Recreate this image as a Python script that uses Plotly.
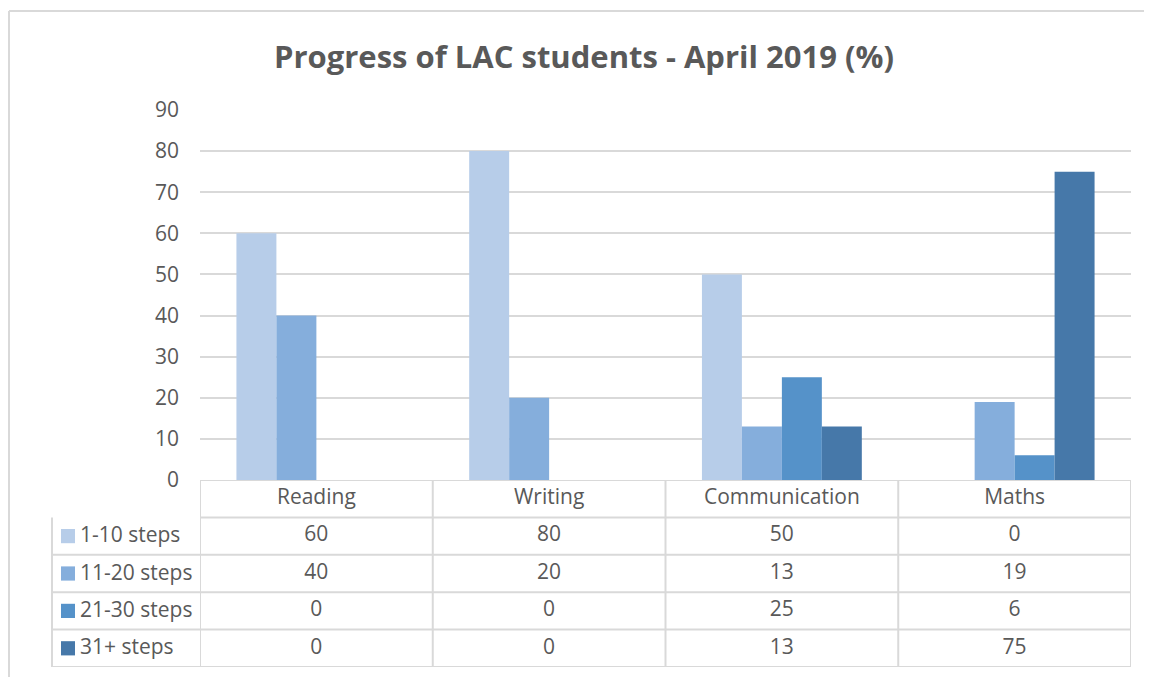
import plotly.graph_objects as go

# data
subjects = ['Reading', 'Writing', 'Communication', 'Maths']
series_names = ['1-10 steps', '11-20 steps', '21-30 steps', '31+ steps']
steps_1_10 = [60, 80, 50, 0]
steps_11_20 = [40, 20, 13, 19]
steps_21_30 = [0, 0, 25, 6]
steps_31_plus = [0, 0, 13, 75]
y_ticks = [0, 10, 20, 30, 40, 50, 60, 70, 80, 90]

series_values = [steps_1_10, steps_11_20, steps_21_30, steps_31_plus]
colors = ['#B7CDE9', '#85AEDC', '#5592C9', '#4678A9']

W, H = 1152, 677
OFF = 8  # page body margin
TXT = '#595959'
LINE = '#D9D9D9'
FONT = 'Open Sans'
FS = 21


def px(x):
    return (x - OFF) / W


def py(y):
    return (H - (y - OFF)) / H


fig = go.Figure()

# bars
for name, vals, col in zip(series_names, series_values, colors):
    fig.add_trace(go.Bar(x=subjects, y=vals, name=name, marker=dict(color=col, line=dict(width=0)),
                         showlegend=False, xaxis='x', yaxis='y'))

# data table: header row at 4, series rows at 3..0
n_rows = len(series_names)
fig.add_trace(go.Scatter(x=subjects, y=[n_rows] * len(subjects), text=subjects, mode='text',
                         textfont=dict(family=FONT, size=FS, color=TXT), showlegend=False,
                         xaxis='x', yaxis='y2', hoverinfo='skip'))
for i, (name, vals) in enumerate(zip(series_names, series_values)):
    row = n_rows - 1 - i
    fig.add_trace(go.Scatter(x=subjects, y=[row] * len(subjects), text=[str(v) for v in vals], mode='text',
                             textfont=dict(family=FONT, size=FS, color=TXT), showlegend=False,
                             xaxis='x', yaxis='y2', hoverinfo='skip'))

shapes = []
annotations = []

# row labels with colour keys
for i, (name, col) in enumerate(zip(series_names, colors)):
    row = n_rows - 1 - i
    shapes.append(dict(type='rect', xref='paper', yref='y2', x0=px(61), x1=px(75),
                       y0=row - 0.19, y1=row + 0.19, fillcolor=col, line=dict(width=0)))
    annotations.append(dict(text=name, xref='paper', yref='y2', x=px(78), y=row, xanchor='left',
                            yanchor='middle', yshift=2, showarrow=False,
                            font=dict(family=FONT, size=FS, color=TXT)))

# table grid
tl = dict(color=LINE, width=2)
for k in range(n_rows):
    yv = k - 0.5
    shapes.append(dict(type='line', xref='paper', yref='y2', x0=px(52), x1=px(1131),
                       y0=yv, y1=yv, line=tl))
for yv in (n_rows - 0.5, n_rows + 0.5):
    shapes.append(dict(type='line', xref='x', yref='y2', x0=-0.5, x1=len(subjects) - 0.5,
                       y0=yv, y1=yv, line=tl))
shapes.append(dict(type='line', xref='paper', yref='y2', x0=px(52), x1=px(52),
                   y0=-0.5, y1=n_rows - 0.5, line=tl))
for j in range(len(subjects) + 1):
    shapes.append(dict(type='line', xref='x', yref='y2', x0=j - 0.5, x1=j - 0.5,
                       y0=-0.5, y1=n_rows + 0.5, line=tl))

# chart border (left and top edges visible)
bx = 1 / W
shapes.append(dict(type='line', xref='paper', yref='paper', x0=bx, x1=1,
                   y0=py(11), y1=py(11), line=dict(color=LINE, width=2), layer='below'))
shapes.append(dict(type='line', xref='paper', yref='paper', x0=bx, x1=bx,
                   y0=0, y1=py(11), line=dict(color=LINE, width=2), layer='below'))

annotations.append(dict(text='<b>Progress of LAC students - April 2019 (%)</b>', xref='paper', yref='paper',
                        x=px(584), y=py(56), xanchor='center', yanchor='middle', showarrow=False,
                        font=dict(family=FONT, size=31, color=TXT)))

fig.update_layout(
    template='none',
    width=W, height=H,
    margin=dict(l=0, r=0, t=0, b=0, pad=0),
    paper_bgcolor='white', plot_bgcolor='white',
    barmode='group', bargap=0.313, bargroupgap=0,
    font=dict(family=FONT, color=TXT),
    xaxis=dict(domain=[px(200), px(1131)], range=[-0.5, len(subjects) - 0.5], showticklabels=False,
               showgrid=False, zeroline=False, showline=False, anchor='y', fixedrange=True,
               automargin=False),
    yaxis=dict(domain=[py(480), py(110)], range=[0, 90], tickvals=y_ticks, showgrid=True,
               gridcolor=LINE, gridwidth=2, zeroline=False, showline=False, ticks='',
               tickfont=dict(family=FONT, size=FS, color=TXT), ticklabelstandoff=20,
               anchor='x', fixedrange=True, automargin=False),
    yaxis2=dict(domain=[py(667), py(480)], range=[-0.5, n_rows + 0.5], showgrid=False, zeroline=False,
                showticklabels=False, showline=False, anchor='x', fixedrange=True, automargin=False),
    shapes=shapes,
    annotations=annotations,
)

fig.write_html('out.html')
